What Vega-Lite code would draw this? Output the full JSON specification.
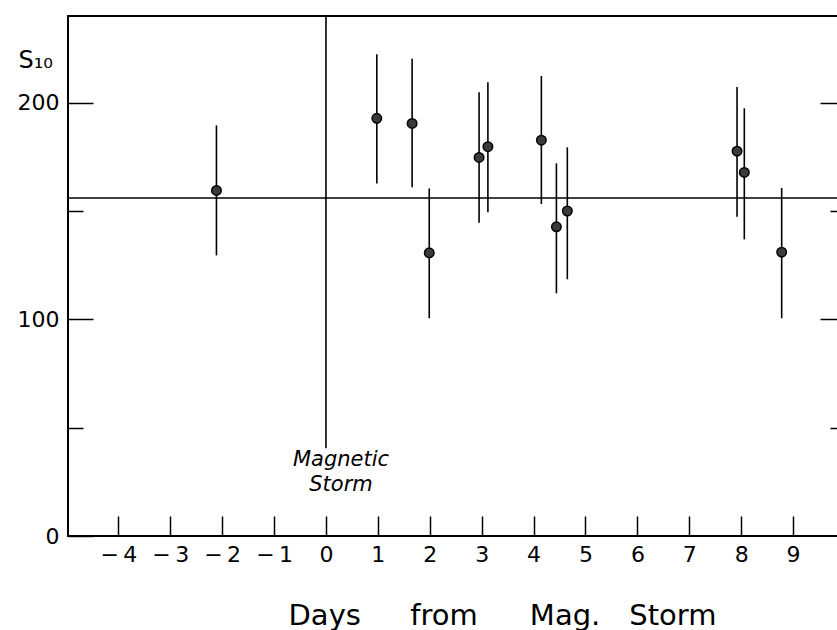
{
  "$schema": "https://vega.github.io/schema/vega-lite/v6.json",
  "width": 777,
  "height": 520,
  "autosize": "none",
  "padding": {"left": 68, "top": 16, "right": 0, "bottom": 94},
  "background": "white",
  "config": {
    "view": {"stroke": "#000", "strokeWidth": 2},
    "axis": {"labelFont": "DejaVu Sans", "labelColor": "#000", "tickColor": "#000", "titleColor": "#000", "grid": false, "domain": false, "tickWidth": 1.5}
  },
  "datasets": {
    "obs": [
      {"day": -2.11, "s": 159.5, "lo": 129.5, "hi": 189.5},
      {"day": 0.98, "s": 192.8, "lo": 162.7, "hi": 222.4},
      {"day": 1.66, "s": 190.4, "lo": 161, "hi": 220.3},
      {"day": 1.99, "s": 130.7, "lo": 100.5, "hi": 160.4},
      {"day": 2.95, "s": 174.7, "lo": 144.6, "hi": 204.8},
      {"day": 3.12, "s": 179.7, "lo": 149.4, "hi": 209.4},
      {"day": 4.15, "s": 182.7, "lo": 153.2, "hi": 212.3},
      {"day": 4.44, "s": 142.7, "lo": 112, "hi": 172},
      {"day": 4.65, "s": 150, "lo": 118.5, "hi": 179.4},
      {"day": 7.92, "s": 177.6, "lo": 147.4, "hi": 207.2},
      {"day": 8.06, "s": 167.8, "lo": 136.9, "hi": 197.4},
      {"day": 8.78, "s": 131, "lo": 100.5, "hi": 160.6}
    ],
    "mean": [{"s": 156}],
    "storm": [{"day": 0, "lo": 40.5, "hi": 240}],
    "note": [{"day": 0.29, "s": 32.5, "label": ["Magnetic", "Storm"]}]
  },
  "layer": [
    {
      "data": {"name": "obs"},
      "mark": {"type": "rule", "color": "#000", "strokeWidth": 1.6},
      "encoding": {
        "x": {"field": "day", "type": "quantitative", "scale": {"domain": [-4.97, 10], "nice": false, "zero": false},
          "axis": {"title": "Days\u2003\u2002\u2009from\u2003\u2002\u2009\u200aMag.\u2003Storm", "values": [-4, -3, -2, -1, 0, 1, 2, 3, 4, 5, 6, 7, 8, 9], "tickSize": -20, "labelFontSize": 22, "labelPadding": 28,
            "labelExpr": "datum.value < 0 ? '\u2212\u2009' + abs(datum.value) + '\u2009\u2007' : '' + datum.value",
            "titleFont": "DejaVu Sans", "titleFontSize": 29, "titleFontWeight": 400, "titleX": 434, "titleY": 88, "titleAlign": "center", "titleAnchor": null, "titleBaseline": "alphabetic"}},
        "y": {"field": "lo", "type": "quantitative", "scale": {"domain": [0, 240], "nice": false},
          "axis": {"orient": "left", "values": [0, 50, 100, 150, 200], "labelExpr": "datum.value % 100 === 0 ? datum.label : ''", "labelFontSize": 22, "labelPadding": 34,
            "tickSize": {"condition": {"test": "datum.value % 100 === 0", "value": -25}, "value": -15},
            "title": "S\u2081\u2080", "titleFont": "DejaVu Sans", "titleFontWeight": 400, "titleFontSize": 24, "titleAngle": 0, "titleAlign": "left", "titleBaseline": "alphabetic", "titleX": -50, "titleY": 51, "titleAnchor": null}},
        "y2": {"field": "hi"}
      }
    },
    {
      "data": {"name": "obs"},
      "mark": {"type": "point", "shape": "circle", "filled": true, "fill": "#3a3a3a", "stroke": "#000", "strokeWidth": 1.5, "size": 90, "opacity": 1},
      "encoding": {
        "x": {"field": "day", "type": "quantitative"},
        "y": {"field": "s", "type": "quantitative", "scale": {"domain": [0, 240], "nice": false},
          "axis": {"orient": "right", "values": [50, 100, 150, 200], "labels": false, "title": null,
            "tickSize": {"condition": {"test": "datum.value % 100 === 0", "value": -25}, "value": -15}}}
      }
    },
    {
      "data": {"name": "mean"},
      "mark": {"type": "rule", "color": "#000", "strokeWidth": 1.5},
      "encoding": {"y": {"field": "s", "type": "quantitative", "axis": null}}
    },
    {
      "data": {"name": "storm"},
      "mark": {"type": "rule", "color": "#000", "strokeWidth": 1.6},
      "encoding": {
        "x": {"field": "day", "type": "quantitative"},
        "y": {"field": "lo", "type": "quantitative", "axis": null},
        "y2": {"field": "hi"}
      }
    },
    {
      "data": {"name": "note"},
      "mark": {"type": "text", "font": "DejaVu Sans", "fontStyle": "italic", "fontSize": 21, "align": "center", "baseline": "alphabetic", "lineHeight": 25, "color": "#000"},
      "encoding": {
        "x": {"field": "day", "type": "quantitative"},
        "y": {"field": "s", "type": "quantitative", "axis": null},
        "text": {"field": "label"}
      }
    }
  ],
  "resolve": {"axis": {"y": "independent"}}
}
